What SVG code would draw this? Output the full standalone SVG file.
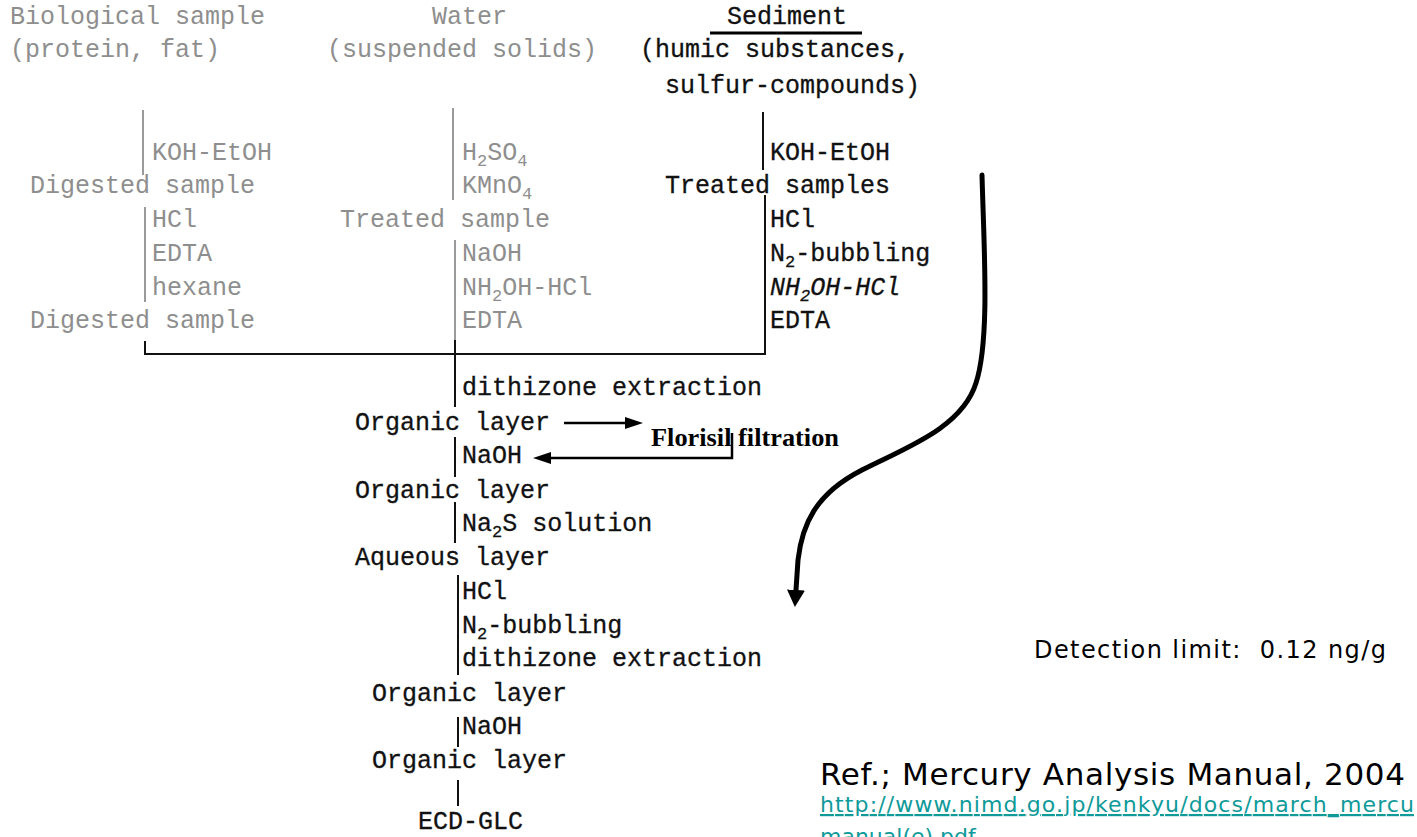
<svg xmlns="http://www.w3.org/2000/svg" width="1417" height="837" viewBox="0 0 1417 837">
  <style>
    .mono { font-family: "Liberation Mono", "DejaVu Sans Mono", monospace; font-size: 25px; }
    .g { fill: #8e8e8e; }
    .k { fill: #111111; stroke: #111111; stroke-width: 0.3; }
    .it { font-style: italic; }
    .sub { font-size: 17px; }
    .gl { stroke: #9a9a9a; stroke-width: 2; fill: none; }
    .kl { stroke: #111111; stroke-width: 2; fill: none; }
    .arr { stroke: #000000; stroke-width: 2.5; fill: none; }
    .curve { stroke: #000000; stroke-width: 5; fill: none; stroke-linecap: round; }
    .serif { font-family: "Liberation Serif", "Times New Roman", serif; font-weight: bold; font-size: 26px; fill: #000; }
    .sans { font-family: "DejaVu Sans", "Liberation Sans", sans-serif; fill: #000; white-space: pre; }
    .link { font-family: "DejaVu Sans", "Liberation Sans", sans-serif; font-size: 22px; fill: #0f9a9a; text-decoration: underline; }
  </style>
  <defs>
    <marker id="head" markerUnits="userSpaceOnUse" markerWidth="18" markerHeight="12" refX="0" refY="6" orient="auto">
      <path d="M0,0 L18,6 L0,12 z" fill="#000"/>
    </marker>
    <marker id="bighead" markerUnits="userSpaceOnUse" markerWidth="18" markerHeight="18" refX="0" refY="9" orient="auto">
      <path d="M0,0 L17,9 L0,18 z" fill="#000"/>
    </marker>
  </defs>

  <!-- biological sample branch (grey) -->
  <g id="biological">
    <text class="mono g" x="10" y="24">Biological sample</text>
    <text class="mono g" x="10" y="57">(protein, fat)</text>
    <text class="mono g" x="152" y="160">KOH-EtOH</text>
    <text class="mono g" x="30" y="193">Digested sample</text>
    <text class="mono g" x="152" y="227">HCl</text>
    <text class="mono g" x="152" y="261">EDTA</text>
    <text class="mono g" x="152" y="295">hexane</text>
    <text class="mono g" x="30" y="328">Digested sample</text>
  </g>

  <!-- water branch (grey) -->
  <g id="water">
    <text class="mono g" x="432" y="24">Water</text>
    <text class="mono g" x="327" y="57">(suspended solids)</text>
    <text class="mono g" x="462" y="160">H<tspan class="sub" dy="6">2</tspan><tspan dy="-6">SO</tspan><tspan class="sub" dy="6">4</tspan></text>
    <text class="mono g" x="462" y="193">KMnO<tspan class="sub" dy="6">4</tspan></text>
    <text class="mono g" x="340" y="227">Treated sample</text>
    <text class="mono g" x="462" y="261">NaOH</text>
    <text class="mono g" x="462" y="295">NH<tspan class="sub" dy="6">2</tspan><tspan dy="-6">OH-HCl</tspan></text>
    <text class="mono g" x="462" y="328">EDTA</text>
  </g>

  <!-- sediment branch -->
  <g id="sediment">
    <text class="mono k" x="727" y="24">Sediment</text>
    <line x1="710" y1="33" x2="862" y2="33" stroke="#000" stroke-width="3"/>
    <text class="mono k" x="640" y="57">(humic substances,</text>
    <text class="mono k" x="665" y="93">sulfur-compounds)</text>
    <text class="mono k" x="770" y="160">KOH-EtOH</text>
    <text class="mono k" x="665" y="193">Treated samples</text>
    <text class="mono k" x="770" y="227">HCl</text>
    <text class="mono k" x="770" y="261">N<tspan class="sub" dy="6">2</tspan><tspan dy="-6">-bubbling</tspan></text>
    <text class="mono k it" x="770" y="295">NH<tspan class="sub" dy="6">2</tspan><tspan dy="-6">OH-HCl</tspan></text>
    <text class="mono k" x="770" y="328">EDTA</text>
  </g>

  <!-- common clean-up sequence -->
  <g id="cleanup">
    <text class="mono k" x="462" y="395">dithizone extraction</text>
    <text class="mono k" x="355" y="430">Organic layer</text>
    <text class="mono k" x="462" y="463">NaOH</text>
    <text class="mono k" x="355" y="498">Organic layer</text>
    <text class="mono k" x="462" y="531">Na<tspan class="sub" dy="6">2</tspan><tspan dy="-6">S solution</tspan></text>
    <text class="mono k" x="355" y="565">Aqueous layer</text>
    <text class="mono k" x="462" y="599">HCl</text>
    <text class="mono k" x="462" y="633">N<tspan class="sub" dy="6">2</tspan><tspan dy="-6">-bubbling</tspan></text>
    <text class="mono k" x="462" y="666">dithizone extraction</text>
    <text class="mono k" x="372" y="701">Organic layer</text>
    <text class="mono k" x="462" y="734">NaOH</text>
    <text class="mono k" x="372" y="768">Organic layer</text>
    <text class="mono k" x="418" y="829">ECD-GLC</text>
  </g>

  <g id="florisil">
    <text class="serif" x="651" y="446" textLength="188" lengthAdjust="spacingAndGlyphs">Florisil filtration</text>
  </g>

  <g id="notes">
    <text class="sans" x="1034" y="658" font-size="24" textLength="352">Detection limit:  0.12 ng/g</text>
    <text class="sans" x="820" y="785" font-size="31" textLength="585">Ref.; Mercury Analysis Manual, 2004</text>
    <text class="link" x="820" y="812" textLength="594">http://www.nimd.go.jp/kenkyu/docs/march_mercu</text>
    <text class="link" x="820" y="844">manual(e).pdf</text>
  </g>

  <!-- connectors -->
  <g id="connectors">
    <line class="gl" x1="143" y1="110" x2="143" y2="175"/>
    <line class="gl" x1="453" y1="108" x2="453" y2="200"/>
    <line class="gl" x1="145" y1="207" x2="145" y2="302"/>
    <line class="gl" x1="455" y1="240" x2="455" y2="342"/>
    <line class="kl" x1="763" y1="112" x2="763" y2="170"/>
    <path class="kl" d="M145,341 L145,354 L765,354 L765,195"/>
    <line class="kl" x1="455" y1="340" x2="455" y2="407"/>
    <line class="kl" x1="455" y1="437" x2="455" y2="477"/>
    <line class="kl" x1="455" y1="502" x2="455" y2="543"/>
    <line class="kl" x1="458" y1="575" x2="458" y2="675"/>
    <line class="kl" x1="458" y1="717" x2="458" y2="747"/>
    <line class="kl" x1="458" y1="780" x2="458" y2="806"/>
    <line class="arr" x1="564" y1="423" x2="625" y2="423" marker-end="url(#head)"/>
    <path class="arr" d="M732,433 L732,458 L551,458" marker-end="url(#head)"/>
    <path class="curve" d="M982,175 C984,250 990,340 976,383 C962,428 905,448 862,470 C815,494 802,525 798,560 L796,590" marker-end="url(#bighead)"/>
  </g>
</svg>
